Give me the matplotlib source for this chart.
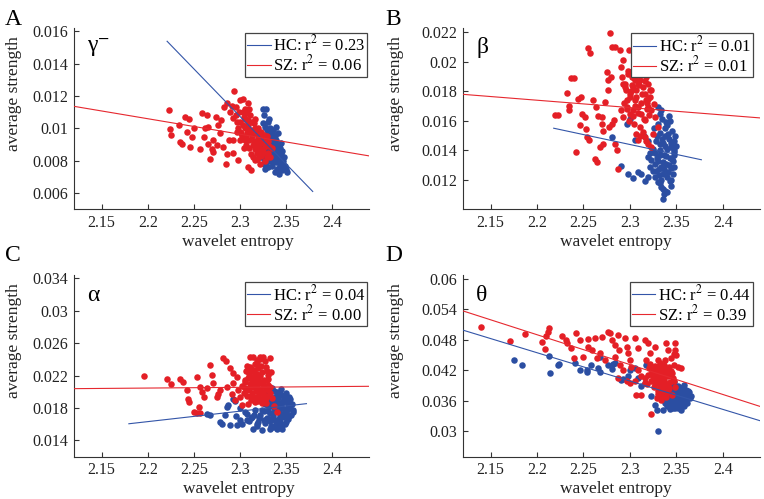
import matplotlib
matplotlib.use('Agg')
import matplotlib.pyplot as plt
from matplotlib.ticker import FormatStrFormatter

plt.rcParams['font.family'] = ['Liberation Serif', 'DejaVu Serif']
plt.rcParams['mathtext.fontset'] = 'stix'

blue = '#2b4ea2'
red = '#e41f26'
axcol = '#333333'

# ---------------- data ----------------
xticks = [2.15, 2.2, 2.25, 2.3, 2.35, 2.4]
xlim = (2.12, 2.44)

# panel A : gamma-
a_hc_x = [2.325, 2.328, 2.326, 2.330, 2.333, 2.329, 2.335, 2.338, 2.332, 2.327, 2.336, 2.340, 2.322, 2.331,
          2.343, 2.338, 2.318, 2.325, 2.334, 2.341, 2.345, 2.329, 2.337, 2.322, 2.343, 2.332, 2.347, 2.339,
          2.326, 2.344, 2.335, 2.349, 2.330, 2.340, 2.327, 2.346, 2.351, 2.342, 2.338, 2.333, 2.336, 2.341,
          2.324, 2.346, 2.328, 2.320, 2.339, 2.345,
          2.321, 2.324, 2.327, 2.330, 2.333, 2.336, 2.339, 2.342, 2.345, 2.348, 2.323, 2.326, 2.329, 2.332,
          2.335, 2.338, 2.341, 2.344, 2.347, 2.350, 2.328, 2.331, 2.334, 2.337, 2.340, 2.343, 2.325, 2.332,
          2.339, 2.346]
a_hc_y = [0.0112, 0.0112, 0.0108, 0.0104, 0.0100, 0.0099, 0.0097, 0.0095, 0.0094, 0.0093, 0.0091, 0.0090,
          0.0090, 0.0089, 0.0088, 0.0087, 0.0088, 0.0086, 0.0085, 0.0084, 0.0084, 0.0083, 0.0082, 0.0082,
          0.0081, 0.0080, 0.0080, 0.0079, 0.0078, 0.0077, 0.0077, 0.0077, 0.0076, 0.0075, 0.0075, 0.0074,
          0.0073, 0.0072, 0.0073, 0.0086, 0.0093, 0.0097, 0.0096, 0.0086, 0.0079, 0.0085, 0.0101, 0.0091,
          0.0098, 0.0094, 0.0101, 0.0096, 0.0092, 0.0099, 0.0093, 0.0089, 0.0086, 0.0082, 0.0084, 0.0081,
          0.0087, 0.0083, 0.0080, 0.0084, 0.0079, 0.0076, 0.0078, 0.0075, 0.0091, 0.0088, 0.0095, 0.0086,
          0.0082, 0.0085, 0.0103, 0.0106, 0.0088, 0.0080]
a_sz_x = [2.2227, 2.2245, 2.2252, 2.2353, 2.2371, 2.2335, 2.2407, 2.2443, 2.2425, 2.2479, 2.2454, 2.2569,
          2.2587, 2.2641, 2.2659, 2.2605, 2.2659, 2.2677, 2.2713, 2.2742, 2.2767, 2.2785, 2.2713, 2.2821,
          2.2857, 2.2850, 2.2893, 2.2911, 2.2929, 2.2940, 2.2857, 2.2972, 2.2983, 2.2929, 2.3001, 2.3073,
          2.3091, 2.3091, 2.3116, 2.3145, 2.3163,
          2.262, 2.275, 2.279, 2.288, 2.283, 2.250, 2.270, 2.292, 2.296, 2.303,
          2.296, 2.300, 2.303, 2.305, 2.306, 2.308, 2.309, 2.310, 2.311, 2.312, 2.313, 2.314, 2.315, 2.316,
          2.317, 2.318, 2.319, 2.320, 2.321, 2.322, 2.323, 2.324, 2.325, 2.326, 2.327, 2.328, 2.330, 2.331,
          2.333, 2.302, 2.298, 2.307, 2.304, 2.318, 2.312, 2.322, 2.300, 2.310, 2.316, 2.329, 2.335,
          2.297, 2.299, 2.301, 2.304, 2.306, 2.308, 2.311, 2.313, 2.315, 2.317, 2.320, 2.322, 2.324, 2.327,
          2.329, 2.332, 2.303, 2.307, 2.310, 2.314, 2.318, 2.321, 2.325, 2.328, 2.300, 2.305, 2.309, 2.316,
          2.319, 2.323]
a_sz_y = [0.01114, 0.00996, 0.00958, 0.00917, 0.00906, 0.01021, 0.01073, 0.01060, 0.00979, 0.00948, 0.00886,
          0.00875, 0.01094, 0.01083, 0.01010, 0.00948, 0.00906, 0.00813, 0.00854, 0.01073, 0.01021, 0.00969,
          0.00927, 0.00886, 0.00844, 0.00782, 0.01104, 0.01135, 0.01062, 0.01229, 0.01156, 0.00979, 0.00802,
          0.00927, 0.01177, 0.01094, 0.01156, 0.00760, 0.00740, 0.00823, 0.00802,
          0.0100, 0.0090, 0.0105, 0.0093, 0.0113, 0.0100, 0.0087, 0.0085, 0.0113, 0.0118,
          0.0108, 0.0104, 0.0110, 0.0100, 0.0106, 0.0097, 0.0102, 0.0093, 0.0108, 0.0099, 0.0095, 0.0090,
          0.0103, 0.0087, 0.0097, 0.0092, 0.0085, 0.0100, 0.0089, 0.0094, 0.0083, 0.0091, 0.0087, 0.0096,
          0.0080, 0.0089, 0.0085, 0.0092, 0.0082, 0.0095, 0.0100, 0.0090, 0.0088, 0.0081, 0.0084, 0.0078,
          0.0098, 0.0112, 0.0106, 0.0095, 0.0088,
          0.0104, 0.0110, 0.0097, 0.0107, 0.0093, 0.0101, 0.0098, 0.0104, 0.0092, 0.0089, 0.0094, 0.0087,
          0.0096, 0.0091, 0.0082, 0.0089, 0.0102, 0.0095, 0.0088, 0.0097, 0.0090, 0.0084, 0.0085, 0.0093,
          0.0093, 0.0112, 0.0105, 0.0100, 0.0081, 0.0098]
a_hc_fit = ([2.221, 2.379], [0.01538, 0.00610])
a_sz_fit = ([2.12, 2.44], [0.01136, 0.00830])

# panel B : beta
b_hc_x = [2.2803, 2.2910, 2.2982, 2.3035, 2.3089, 2.3124, 2.3160, 2.3196, 2.2964, 2.2999, 2.3053, 2.3196,
          2.3231, 2.3214, 2.3249, 2.3267, 2.3303, 2.3339, 2.3374, 2.3357, 2.3367, 2.3439, 2.3321, 2.3303,
          2.3339,
          2.330, 2.335, 2.340, 2.345, 2.338, 2.332, 2.342, 2.347, 2.336, 2.328, 2.344, 2.340, 2.348, 2.333,
          2.337, 2.343, 2.346, 2.329, 2.339, 2.334, 2.344, 2.341, 2.336, 2.331, 2.347, 2.325, 2.322, 2.327,
          2.338, 2.349, 2.343, 2.320, 2.315,
          2.326, 2.329, 2.332, 2.335, 2.338, 2.341, 2.344, 2.347, 2.350, 2.327, 2.330, 2.333, 2.336, 2.339,
          2.342, 2.345, 2.348, 2.331, 2.334, 2.337, 2.340, 2.343, 2.346, 2.328, 2.332, 2.336, 2.340, 2.344,
          2.339, 2.342]
b_hc_y = [0.01489, 0.01292, 0.01240, 0.01213, 0.01251, 0.01240, 0.01195, 0.01217, 0.01580, 0.01614, 0.01467,
          0.01353, 0.01331, 0.01285, 0.01262, 0.01217, 0.01183, 0.01149, 0.01126, 0.01070, 0.01104, 0.01160,
          0.01648, 0.01694, 0.01671,
          0.0158, 0.0161, 0.0157, 0.0153, 0.0150, 0.0152, 0.0148, 0.0146, 0.0145, 0.0146, 0.0142, 0.0141,
          0.0140, 0.0140, 0.0137, 0.0135, 0.0133, 0.0135, 0.0131, 0.0129, 0.0128, 0.0125, 0.0124, 0.0127,
          0.0137, 0.0141, 0.0138, 0.0131, 0.0155, 0.0150, 0.0160, 0.0146, 0.0150,
          0.0155, 0.0150, 0.0144, 0.0148, 0.0143, 0.0151, 0.0145, 0.0139, 0.0143, 0.0138, 0.0133, 0.0137,
          0.0132, 0.0136, 0.0130, 0.0134, 0.0129, 0.0123, 0.0120, 0.0127, 0.0122, 0.0119, 0.0124, 0.0126,
          0.0118, 0.0114, 0.0112, 0.0120, 0.0159, 0.0163]
b_sz_x = [2.2225, 2.2196, 2.2325, 2.2368, 2.2403, 2.2346, 2.2350, 2.2421, 2.2446, 2.2471, 2.2482, 2.2517,
          2.2464, 2.2525, 2.2535, 2.2564, 2.2553, 2.2571, 2.2607, 2.2635, 2.2660, 2.2696, 2.2625, 2.2642,
          2.2696, 2.2707, 2.2714, 2.2678, 2.2732, 2.2760, 2.2767, 2.2796, 2.2750, 2.2774, 2.2803, 2.2828,
          2.2839, 2.2867, 2.2874, 2.2839, 2.2810, 2.2785, 2.2892, 2.2903, 2.2928, 2.2928, 2.2946, 2.2964,
          2.2982, 2.2999, 2.3024, 2.2910, 2.2928, 2.2999, 2.3035, 2.3053, 2.3064, 2.3089, 2.3107, 2.3124,
          2.3142, 2.3160, 2.3178, 2.3196, 2.3214, 2.3231, 2.3089, 2.3124, 2.3160, 2.3107, 2.3142, 2.3071,
          2.3089, 2.3160, 2.3196, 2.3231, 2.3249, 2.3267, 2.3303, 2.3035, 2.3053, 2.2999, 2.2964, 2.3178,
          2.3196, 2.3231, 2.3260, 2.2990,
          2.292, 2.295, 2.298, 2.301, 2.304, 2.307, 2.310, 2.313, 2.316, 2.319, 2.322, 2.294, 2.297, 2.300,
          2.303, 2.306, 2.309, 2.312, 2.315, 2.318, 2.321, 2.296, 2.302, 2.308, 2.314, 2.320, 2.299, 2.305,
          2.311, 2.317]
b_sz_y = [0.01637, 0.01637, 0.01789, 0.01894, 0.01891, 0.01698, 0.01671, 0.01387, 0.01751, 0.01762, 0.01648,
          0.01626, 0.01569, 0.01546, 0.01489, 0.01467, 0.02091, 0.02057, 0.01739, 0.01694, 0.01630, 0.01626,
          0.01342, 0.01324, 0.01580, 0.01530, 0.01444, 0.01421, 0.01728, 0.01807, 0.01875, 0.01898, 0.01932,
          0.01558, 0.01580, 0.01603, 0.01444, 0.01399, 0.01274, 0.02102, 0.02102, 0.02198, 0.02080, 0.01966,
          0.02012, 0.01853, 0.01830, 0.01739, 0.01921, 0.01932, 0.01898, 0.01671, 0.01626, 0.01648, 0.01671,
          0.01739, 0.01807, 0.01853, 0.01875, 0.01921, 0.01830, 0.01785, 0.01739, 0.01694, 0.01762, 0.01807,
          0.01694, 0.01648, 0.01603, 0.01558, 0.01524, 0.01512, 0.01467, 0.01489, 0.01444, 0.01421, 0.01512,
          0.01626, 0.01558, 0.01830, 0.01875, 0.01785, 0.01694, 0.01898, 0.01853, 0.01671, 0.01716, 0.02080,
          0.0190, 0.0185, 0.0194, 0.0180, 0.0189, 0.0176, 0.0184, 0.0178, 0.0187, 0.0172, 0.0181, 0.0172,
          0.0168, 0.0176, 0.0163, 0.0170, 0.0165, 0.0172, 0.0161, 0.0168, 0.0164, 0.0181, 0.0184, 0.0191,
          0.0194, 0.0175, 0.0160, 0.0158, 0.0150, 0.0146]
b_hc_fit = ([2.218, 2.377], [0.01550, 0.01336])
b_sz_fit = ([2.12, 2.44], [0.01780, 0.01620])

# panel C : alpha
c_hc_x = [2.2648, 2.2670, 2.2785, 2.2803, 2.2893, 2.2972, 2.2929, 2.2947, 2.3001, 2.3073, 2.3145, 2.3235,
          2.3325, 2.3397, 2.3462, 2.3577, 2.2857, 2.2875, 2.3073, 2.3127, 2.3181,
          2.330, 2.335, 2.340, 2.345, 2.350, 2.332, 2.338, 2.343, 2.348, 2.353, 2.328, 2.334, 2.340, 2.346,
          2.351, 2.356, 2.330, 2.337, 2.342, 2.348, 2.354, 2.326, 2.333, 2.339, 2.345, 2.350, 2.322, 2.329,
          2.336, 2.342, 2.347, 2.352, 2.320, 2.327, 2.333, 2.339, 2.344, 2.349, 2.316, 2.312, 2.336, 2.343,
          2.355, 2.358,
          2.331, 2.337, 2.343, 2.349, 2.354, 2.329, 2.335, 2.341, 2.347, 2.352, 2.327, 2.333, 2.339, 2.345,
          2.351, 2.324, 2.330, 2.336, 2.342, 2.348, 2.353, 2.321, 2.326, 2.332, 2.338, 2.344, 2.350, 2.334,
          2.340, 2.346,
          2.296, 2.302, 2.306, 2.310, 2.315, 2.318, 2.300, 2.284]
c_hc_y = [0.01732, 0.01711, 0.01628, 0.01608, 0.01587, 0.01587, 0.01917, 0.01888, 0.01649, 0.01731, 0.01546,
          0.01525, 0.01546, 0.01546, 0.01546, 0.01752, 0.01814, 0.01834, 0.01649, 0.01690, 0.01608,
          0.0202, 0.0205, 0.0200, 0.0203, 0.0199, 0.0196, 0.0193, 0.0196, 0.0192, 0.0194, 0.0190, 0.0187,
          0.0189, 0.0186, 0.0188, 0.0185, 0.0182, 0.0180, 0.0182, 0.0179, 0.0180, 0.0176, 0.0174, 0.0176,
          0.0173, 0.0175, 0.0171, 0.0168, 0.0170, 0.0167, 0.0169, 0.0166, 0.0163, 0.0162, 0.0164, 0.0161,
          0.0163, 0.0160, 0.0177, 0.0168, 0.0157, 0.0157, 0.0171, 0.0178,
          0.0199, 0.0201, 0.0198, 0.0196, 0.0191, 0.0193, 0.0190, 0.0192, 0.0189, 0.0184, 0.0185, 0.0183,
          0.0185, 0.0181, 0.0177, 0.0178, 0.0176, 0.0174, 0.0177, 0.0172, 0.0170, 0.0168, 0.0165, 0.0167,
          0.0165, 0.0170, 0.0163, 0.0158, 0.0155, 0.0159,
          0.0170, 0.0160, 0.0175, 0.0164, 0.0172, 0.0158, 0.0180, 0.0171]
c_sz_x = [2.1957, 2.2209, 2.2252, 2.2353, 2.2382, 2.2425, 2.2432, 2.2443, 2.2497, 2.2533, 2.2569, 2.2558,
          2.2533, 2.2569, 2.2587, 2.2677, 2.2695, 2.2641, 2.2612, 2.2749, 2.2785, 2.2821, 2.2846, 2.2893,
          2.2929, 2.2965, 2.3001, 2.3019, 2.2713, 2.2767, 2.2857, 2.2911, 2.2947, 2.2929, 2.2983, 2.3055,
          2.3073, 2.3091, 2.3109, 2.3145, 2.3217, 2.3253, 2.3181, 2.3325,
          2.308, 2.312, 2.316, 2.320, 2.324, 2.328, 2.310, 2.314, 2.318, 2.322, 2.326, 2.330, 2.306, 2.311,
          2.315, 2.319, 2.323, 2.327, 2.331, 2.309, 2.313, 2.317, 2.321, 2.325, 2.329, 2.333, 2.316, 2.320,
          2.324, 2.328, 2.312, 2.335, 2.304, 2.302, 2.334, 2.337, 2.340,
          2.307, 2.311, 2.315, 2.319, 2.323, 2.327, 2.331, 2.309, 2.313, 2.317, 2.321, 2.325, 2.329, 2.333,
          2.306, 2.310, 2.314, 2.318, 2.322, 2.326, 2.330, 2.312, 2.316, 2.320, 2.324, 2.328, 2.308, 2.315,
          2.322, 2.329]
c_sz_y = [0.02193, 0.02152, 0.02094, 0.02152, 0.02123, 0.02020, 0.01917, 0.01876, 0.01752, 0.01744, 0.01740,
          0.01814, 0.02185, 0.02061, 0.02000, 0.02329, 0.02205, 0.02049, 0.01937, 0.01937, 0.02020, 0.02411,
          0.02378, 0.02288, 0.02234, 0.02185, 0.01937, 0.01834, 0.02103, 0.01979, 0.02061, 0.01979, 0.01896,
          0.02103, 0.02020, 0.02123, 0.02020, 0.01855, 0.02432, 0.02432, 0.02432, 0.02424, 0.02391, 0.02411,
          0.0232, 0.0228, 0.0234, 0.0229, 0.0225, 0.0230, 0.0222, 0.0218, 0.0222, 0.0219, 0.0215, 0.0221,
          0.0214, 0.0210, 0.0212, 0.0208, 0.0211, 0.0206, 0.0209, 0.0203, 0.0199, 0.0201, 0.0197, 0.0200,
          0.0195, 0.0199, 0.0193, 0.0189, 0.0191, 0.0186, 0.0190, 0.0192, 0.0198, 0.0207, 0.0224, 0.0183,
          0.0175,
          0.0226, 0.0231, 0.0227, 0.0236, 0.0232, 0.0238, 0.0216, 0.0217, 0.0213, 0.0216, 0.0213, 0.0210,
          0.0214, 0.0206, 0.0205, 0.0203, 0.0206, 0.0202, 0.0204, 0.0196, 0.0202, 0.0195, 0.0188, 0.0194,
          0.0186, 0.0192, 0.0195, 0.0225, 0.0240, 0.0226]
c_hc_fit = ([2.1795, 2.3722], [0.01606, 0.01854])
c_sz_fit = ([2.12, 2.44], [0.02039, 0.02068])

# panel D : theta
d_hc_x = [2.1750, 2.1839, 2.2143, 2.2125, 2.2225, 2.2232, 2.2410, 2.2464, 2.2535, 2.2539, 2.2582, 2.2660,
          2.2678, 2.2678, 2.2760, 2.2814, 2.2803, 2.2839, 2.2910, 2.2921, 2.2982, 2.2999, 2.3053, 2.3089,
          2.3124, 2.3160, 2.3178, 2.3231, 2.3303, 2.3267, 2.3296,
          2.340, 2.346, 2.352, 2.358, 2.336, 2.342, 2.348, 2.354, 2.360, 2.334, 2.340, 2.346, 2.352, 2.358,
          2.364, 2.337, 2.343, 2.349, 2.355, 2.361, 2.335, 2.341, 2.347, 2.353, 2.359, 2.338, 2.344, 2.350,
          2.356, 2.340, 2.346, 2.352, 2.358, 2.343, 2.349, 2.355, 2.336, 2.362, 2.366, 2.330,
          2.339, 2.345, 2.351, 2.357, 2.363, 2.337, 2.343, 2.349, 2.355, 2.361, 2.341, 2.347, 2.353, 2.359,
          2.365, 2.339, 2.345, 2.351, 2.357, 2.342, 2.348, 2.354, 2.360, 2.344, 2.350, 2.356, 2.346, 2.352,
          2.333, 2.348]
d_hc_y = [0.04403, 0.04305, 0.04142, 0.04481, 0.04305, 0.04324, 0.04337, 0.04194, 0.04207, 0.04168, 0.04305,
          0.04239, 0.04155, 0.04468, 0.04305, 0.04318, 0.04220, 0.04337, 0.03998, 0.04024, 0.04077, 0.04207,
          0.04239, 0.04044, 0.03881, 0.03946, 0.04305, 0.03685, 0.02999, 0.03522, 0.03425,
          0.0390, 0.0392, 0.0389, 0.0391, 0.0384, 0.0386, 0.0383, 0.0385, 0.0382, 0.0377, 0.0379, 0.0376,
          0.0378, 0.0375, 0.0377, 0.0370, 0.0372, 0.0369, 0.0371, 0.0368, 0.0363, 0.0365, 0.0362, 0.0364,
          0.0361, 0.0356, 0.0358, 0.0355, 0.0357, 0.0349, 0.0351, 0.0348, 0.0350, 0.0343, 0.0345, 0.0342,
          0.0341, 0.0356, 0.0370, 0.0368,
          0.0387, 0.0388, 0.0385, 0.0386, 0.0380, 0.0381, 0.0380, 0.0378, 0.0381, 0.0374, 0.0373, 0.0374,
          0.0374, 0.0372, 0.0365, 0.0367, 0.0366, 0.0367, 0.0365, 0.0360, 0.0360, 0.0359, 0.0360, 0.0353,
          0.0353, 0.0353, 0.0346, 0.0345, 0.0372, 0.0396]
d_sz_x = [2.1393, 2.1707, 2.1868, 2.2053, 2.2089, 2.2114, 2.2125, 2.2100, 2.2268, 2.2314, 2.2328, 2.2368,
          2.2403, 2.2421, 2.2464, 2.2553, 2.2625, 2.2589, 2.2642, 2.2696, 2.2767, 2.2785, 2.2803, 2.2839,
          2.2874, 2.2882, 2.2946, 2.2964, 2.2982, 2.2999, 2.3017, 2.3053, 2.3089, 2.3160, 2.3178, 2.3196,
          2.3214, 2.3267, 2.3303, 2.3339, 2.3374, 2.3392, 2.3410, 2.3481, 2.3488, 2.3499, 2.3517, 2.3553,
          2.3231, 2.3071, 2.3124, 2.2874, 2.2964, 2.2999, 2.2678, 2.2553, 2.2500, 2.2732, 2.2839, 2.2892,
          2.2928, 2.3089, 2.3124, 2.3053, 2.3160,
          2.322, 2.327, 2.332, 2.337, 2.342, 2.347, 2.324, 2.329, 2.334, 2.339, 2.344, 2.320, 2.326, 2.331,
          2.336, 2.341, 2.346, 2.323, 2.328, 2.333, 2.338, 2.343, 2.326, 2.331, 2.336, 2.341, 2.330, 2.335,
          2.340, 2.345, 2.334, 2.318, 2.316, 2.349,
          2.321, 2.325, 2.329, 2.333, 2.337, 2.341, 2.345, 2.323, 2.327, 2.331, 2.335, 2.339, 2.343, 2.347,
          2.325, 2.329, 2.333, 2.337, 2.341, 2.327, 2.332, 2.337, 2.342, 2.330, 2.336, 2.329, 2.334, 2.339,
          2.344, 2.348]
d_sz_y = [0.05042, 0.04781, 0.04905, 0.04761, 0.04611, 0.04944, 0.05022, 0.04872, 0.04872, 0.04794, 0.04729,
          0.04631, 0.04435, 0.04924, 0.04794, 0.04807, 0.04826, 0.04598, 0.04435, 0.04846, 0.04957, 0.04924,
          0.04794, 0.04696, 0.04892, 0.04598, 0.04826, 0.04663, 0.04533, 0.04403, 0.04272, 0.04826, 0.04631,
          0.04794, 0.04403, 0.04729, 0.04533, 0.04663, 0.04403, 0.04272, 0.04403, 0.04729, 0.04598, 0.04729,
          0.04598, 0.04500, 0.04272, 0.04239, 0.03346, 0.03718, 0.03718, 0.04044, 0.03979, 0.03946, 0.04533,
          0.04663, 0.04468, 0.04403, 0.04468, 0.04305, 0.04207, 0.04207, 0.04077, 0.03979, 0.03946,
          0.0432, 0.0428, 0.0434, 0.0430, 0.0426, 0.0431, 0.0420, 0.0417, 0.0421, 0.0416, 0.0419, 0.0410,
          0.0407, 0.0411, 0.0406, 0.0409, 0.0404, 0.0398, 0.0396, 0.0400, 0.0394, 0.0397, 0.0386, 0.0383,
          0.0387, 0.0381, 0.0374, 0.0370, 0.0376, 0.0372, 0.0362, 0.0392, 0.0404, 0.0386,
          0.0425, 0.0422, 0.0426, 0.0424, 0.0421, 0.0423, 0.0415, 0.0413, 0.0411, 0.0415, 0.0412, 0.0410,
          0.0412, 0.0398, 0.0402, 0.0403, 0.0405, 0.0401, 0.0389, 0.0392, 0.0391, 0.0393, 0.0385, 0.0380,
          0.0379, 0.0366, 0.0388, 0.0368, 0.0444, 0.0452]
d_hc_fit = ([2.12, 2.44], [0.04989, 0.03208])
d_sz_fit = ([2.12, 2.44], [0.05367, 0.03489])

panels = [
    dict(letter='A', band='γ$^{-}$', pos=[0.0969, 0.5806, 0.386, 0.3633], letter_xy=(0.006, 0.95),
         hc=(a_hc_x, a_hc_y), sz=(a_sz_x, a_sz_y), hc_fit=a_hc_fit, sz_fit=a_sz_fit,
         r2=('0.23', '0.06'), yticks=[0.006, 0.008, 0.01, 0.012, 0.014, 0.016], ylim=(0.005, 0.0162),
         ylab_x=-0.176, xlab_x=0.556, leg=(0.995, 0.975)),
    dict(letter='B', band='β', pos=[0.6056, 0.5806, 0.389, 0.3633], letter_xy=(0.504, 0.95),
         hc=(b_hc_x, b_hc_y), sz=(b_sz_x, b_sz_y), hc_fit=b_hc_fit, sz_fit=b_sz_fit,
         r2=('0.01', '0.01'), yticks=[0.012, 0.014, 0.016, 0.018, 0.02, 0.022], ylim=(0.01, 0.0223),
         ylab_x=-0.199, xlab_x=0.515, leg=(0.976, 0.97)),
    dict(letter='C', band='α', pos=[0.0969, 0.0848, 0.386, 0.364], letter_xy=(0.006, 0.477),
         hc=(c_hc_x, c_hc_y), sz=(c_sz_x, c_sz_y), hc_fit=c_hc_fit, sz_fit=c_sz_fit,
         r2=('0.04', '0.00'), yticks=[0.014, 0.018, 0.022, 0.026, 0.03, 0.034], ylim=(0.012, 0.0344),
         ylab_x=-0.176, xlab_x=0.56, leg=(0.995, 0.96)),
    dict(letter='D', band='θ', pos=[0.6056, 0.0848, 0.389, 0.364], letter_xy=(0.504, 0.477),
         hc=(d_hc_x, d_hc_y), sz=(d_sz_x, d_sz_y), hc_fit=d_hc_fit, sz_fit=d_sz_fit,
         r2=('0.44', '0.39'), yticks=[0.03, 0.036, 0.042, 0.048, 0.054, 0.06], ylim=(0.025, 0.0607),
         ylab_x=-0.199, xlab_x=0.515, leg=(0.976, 0.96)),
]

fig = plt.figure(figsize=(7.64, 4.99), dpi=100)

for p in panels:
    ax = fig.add_axes(p['pos'])
    ax.scatter(p['hc'][0], p['hc'][1], s=22, color=blue, linewidths=0, zorder=2)
    ax.scatter(p['sz'][0], p['sz'][1], s=22, color=red, linewidths=0, zorder=3)
    ax.plot(p['hc_fit'][0], p['hc_fit'][1], color='#3355a8', lw=0.8, zorder=4,
            label='HC: r$^2$ = ' + p['r2'][0])
    ax.plot(p['sz_fit'][0], p['sz_fit'][1], color='#e6282f', lw=0.8, zorder=4,
            label='SZ: r$^2$ = ' + p['r2'][1])

    ax.set_xlim(xlim)
    ax.set_ylim(p['ylim'])
    ax.set_xticks(xticks)
    ax.set_yticks(p['yticks'])
    ax.xaxis.set_major_formatter(FormatStrFormatter('%g'))
    ax.yaxis.set_major_formatter(FormatStrFormatter('%g'))

    for s in ['top', 'right']:
        ax.spines[s].set_visible(False)
    for s in ['left', 'bottom']:
        ax.spines[s].set_color(axcol)
        ax.spines[s].set_linewidth(0.8)
    ax.tick_params(direction='in', length=3.5, width=0.8, color=axcol, labelcolor='#222222',
                   labelsize=11.5, pad=4)

    ax.set_xlabel('wavelet entropy', fontsize=12.5, color='#222222')
    ax.set_ylabel('average strength', fontsize=12.5, color='#222222')
    ax.xaxis.set_label_coords(p['xlab_x'], -0.135)
    ax.yaxis.set_label_coords(p['ylab_x'], 0.64)

    ax.text(0.045, 0.89, p['band'], transform=ax.transAxes, fontsize=17, va='center', ha='left')

    leg = ax.legend(loc='upper right', bbox_to_anchor=p['leg'], fontsize=12, frameon=True,
                    fancybox=False, framealpha=1, edgecolor='#444444', handlelength=1.4,
                    handletextpad=0.15, labelspacing=0.0, borderpad=0.12, borderaxespad=0)
    leg.get_frame().set_linewidth(0.9)

    fig.text(p['letter_xy'][0], p['letter_xy'][1], p['letter'], fontsize=17, va='baseline')

fig.savefig('out.png', dpi=100)
